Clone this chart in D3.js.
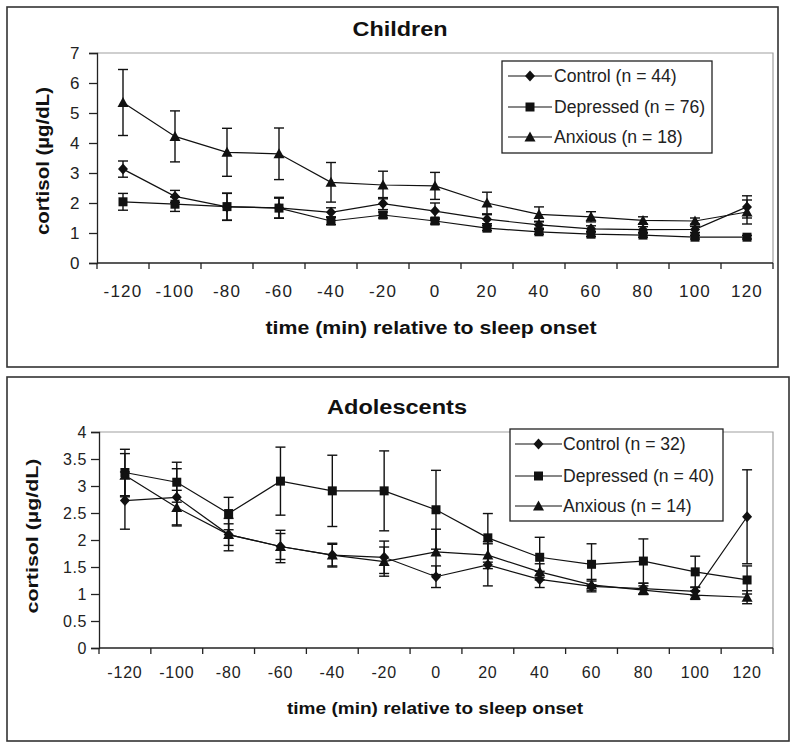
<!DOCTYPE html>
<html>
<head>
<meta charset="utf-8">
<script src="https://cdn.jsdelivr.net/npm/d3@7"></script>
<style>
  html, body { margin: 0; padding: 0; background: #fff; }
  svg { display: block; font-family: Arial, "Liberation Sans", Helvetica, sans-serif; }
</style>
</head>
<body>
<svg id="chart" width="800" height="749"></svg>
<script>
// ---------- DATA ----------
const times = [-120, -100, -80, -60, -40, -20, 0, 20, 40, 60, 80, 100, 120];

const childTicks = [0, 1, 2, 3, 4, 5, 6, 7];
const adolTicks = [0, 0.5, 1, 1.5, 2, 2.5, 3, 3.5, 4];

const childControl = [3.13, 2.22, 1.87, 1.84, 1.69, 1.98, 1.73, 1.46, 1.27, 1.14, 1.11, 1.12, 1.87];
const childControlErr = [0.27, 0.2, 0.45, 0.35, 0.15, 0.2, 0.27, 0.15, 0.12, 0.1, 0.1, 0.1, 0.37];
const childDepressed = [2.04, 1.96, 1.88, 1.83, 1.4, 1.6, 1.4, 1.16, 1.04, 0.96, 0.93, 0.86, 0.86];
const childDepressedErr = [0.28, 0.24, 0.45, 0.33, 0.12, 0.1, 0.1, 0.08, 0.08, 0.08, 0.07, 0.06, 0.06];
const childAnxious = [5.35, 4.22, 3.69, 3.64, 2.69, 2.6, 2.57, 2.0, 1.62, 1.54, 1.42, 1.4, 1.7];
const childAnxiousErr = [1.1, 0.85, 0.8, 0.86, 0.66, 0.46, 0.45, 0.36, 0.25, 0.17, 0.12, 0.1, 0.4];

const adolControl = [2.73, 2.79, 2.1, 1.88, 1.72, 1.68, 1.32, 1.54, 1.27, 1.14, 1.1, 1.05, 2.43];
const adolControlErr = [0.53, 0.53, 0.2, 0.3, 0.22, 0.3, 0.2, 0.39, 0.15, 0.1, 0.1, 0.08, 0.87];
const adolDepressed = [3.25, 3.07, 2.49, 3.09, 2.91, 2.91, 2.56, 2.04, 1.68, 1.55, 1.61, 1.41, 1.26];
const adolDepressedErr = [0.43, 0.37, 0.3, 0.63, 0.66, 0.74, 0.73, 0.45, 0.37, 0.38, 0.41, 0.29, 0.26];
const adolAnxious = [3.2, 2.6, 2.1, 1.88, 1.72, 1.6, 1.78, 1.72, 1.41, 1.17, 1.07, 0.98, 0.94];
const adolAnxiousErr = [0.4, 0.32, 0.3, 0.24, 0.2, 0.27, 0.42, 0.25, 0.15, 0.1, 0.08, 0.08, 0.12];

const childLegend = ["Control (n = 44)", "Depressed (n = 76)", "Anxious (n = 18)"];
const adolLegend = ["Control (n = 32)", "Depressed (n = 40)", "Anxious (n = 14)"];
const markers = ["diamond", "square", "triangle"];

const yTitle = "cortisol (\u00b5g/dL)";
const xTitle = "time (min) relative to sleep onset";

// ---------- DRAW ----------
const svg = d3.select("#chart");

function markerPath(type) {
  if (type === "diamond") return "M0,-5.5L5,0L0,5.5L-5,0Z";
  if (type === "square") return "M-4.5,-4.5H4.5V4.5H-4.5Z";
  return "M0,-5.5L5.5,4.5H-5.5Z";
}

function panel(cfg) {
  const g = svg.append("g");
  g.append("rect").attr("x", cfg.box[0]).attr("y", cfg.box[1])
    .attr("width", cfg.box[2] - cfg.box[0]).attr("height", cfg.box[3] - cfg.box[1])
    .attr("fill", "#fff").attr("stroke", "#333").attr("stroke-width", 1.6);

  const x = d3.scaleBand().domain(times).range([cfg.left, cfg.right]).padding(0);
  const xc = t => x(t) + x.bandwidth() / 2;
  const y = d3.scaleLinear().domain([0, cfg.ymax]).range([cfg.bottom, cfg.top]);

  g.append("path")
    .attr("d", `M${cfg.left},${cfg.top}H${cfg.right}V${cfg.bottom}`)
    .attr("fill", "none").attr("stroke", "#a0a0a0").attr("stroke-width", 1.2);

  const yAxis = d3.axisLeft(y).tickValues(cfg.yticks).tickSize(8).tickPadding(cfg.yPad)
    .tickFormat(d => String(d));
  const ya = g.append("g").attr("transform", `translate(${cfg.left},0)`).call(yAxis);
  ya.select(".domain").attr("stroke", "#222").attr("stroke-width", 1.3);
  ya.selectAll(".tick line").attr("stroke", "#222").attr("stroke-width", 1.3);
  ya.selectAll("text").attr("font-size", cfg.tickFont).attr("fill", "#222")
    .attr("letter-spacing", cfg.yLS);

  const xAxis = d3.axisBottom(x).tickSize(0).tickPadding(cfg.xPad).tickFormat(d => String(d));
  const xa = g.append("g").attr("transform", `translate(0,${cfg.bottom})`).call(xAxis);
  xa.select(".domain").attr("stroke", "#222").attr("stroke-width", 1.3)
    .attr("d", `M${cfg.left},0H${cfg.right}`);
  xa.selectAll("text").attr("font-size", cfg.tickFont).attr("fill", "#222")
    .attr("letter-spacing", cfg.xLS);
  const edges = times.map(t => x(t)).concat([x(times[times.length - 1]) + x.bandwidth()]);
  g.selectAll(".xedge").data(edges).enter().append("line")
    .attr("x1", d => d).attr("x2", d => d)
    .attr("y1", cfg.bottom).attr("y2", cfg.bottom + 6)
    .attr("stroke", "#222").attr("stroke-width", 1.3);

  g.append("text").attr("x", cfg.titleX).attr("y", cfg.titleY)
    .attr("text-anchor", "middle").attr("font-weight", "bold")
    .attr("font-size", cfg.titleFont).attr("fill", "#111")
    .attr("textLength", cfg.titleLen).attr("lengthAdjust", "spacingAndGlyphs")
    .text(cfg.title);
  g.append("text").attr("x", cfg.xTitleX).attr("y", cfg.xTitleY)
    .attr("text-anchor", "middle").attr("font-weight", "bold")
    .attr("font-size", cfg.axisTitleFont).attr("fill", "#111")
    .attr("textLength", cfg.xTitleLen).attr("lengthAdjust", "spacingAndGlyphs")
    .text(xTitle);
  g.append("text")
    .attr("transform", `translate(${cfg.yTitleX},${cfg.yTitleY}) rotate(-90)`)
    .attr("text-anchor", "middle").attr("font-weight", "bold")
    .attr("font-size", cfg.axisTitleFont).attr("fill", "#111")
    .attr("textLength", cfg.yTitleLen).attr("lengthAdjust", "spacingAndGlyphs")
    .text(yTitle);

  const line = d3.line().x((d, i) => xc(times[i])).y(d => y(d));
  cfg.series.forEach((s, si) => {
    const sg = g.append("g");
    sg.append("path").attr("d", line(s.values))
      .attr("fill", "none").attr("stroke", "#111").attr("stroke-width", 1.2);
    s.values.forEach((v, i) => {
      const cx = xc(times[i]);
      const lo = y(v - s.err[i]), hi = y(v + s.err[i]);
      sg.append("line").attr("x1", cx).attr("x2", cx).attr("y1", lo).attr("y2", hi)
        .attr("stroke", "#111").attr("stroke-width", 1.4);
      [lo, hi].forEach(yy => sg.append("line")
        .attr("x1", cx - 5).attr("x2", cx + 5).attr("y1", yy).attr("y2", yy)
        .attr("stroke", "#111").attr("stroke-width", 1.4));
    });
    sg.selectAll(".m").data(s.values).enter().append("path")
      .attr("transform", (d, i) => `translate(${xc(times[i])},${y(d)})`)
      .attr("d", markerPath(markers[si])).attr("fill", "#111");
  });

  const L = cfg.legend;
  g.append("rect").attr("x", L.x).attr("y", L.y).attr("width", L.w).attr("height", L.h)
    .attr("fill", "#fff").attr("stroke", "#222").attr("stroke-width", 1.3);
  cfg.legendLabels.forEach((lab, i) => {
    const yy = L.rows[i];
    g.append("line").attr("x1", L.x + L.l0).attr("x2", L.x + L.l1).attr("y1", yy).attr("y2", yy)
      .attr("stroke", "#111").attr("stroke-width", 1.2);
    g.append("path").attr("transform", `translate(${L.x + (L.l0 + L.l1) / 2},${yy})`)
      .attr("d", markerPath(markers[i])).attr("fill", "#111");
    g.append("text").attr("x", L.x + L.tx).attr("y", yy).attr("dy", "0.36em")
      .attr("font-size", L.font).attr("fill", "#222").text(lab);
  });
}

panel({
  box: [7, 7, 778, 367],
  left: 97, right: 773, top: 53, bottom: 263, ymax: 7,
  yticks: childTicks, yPad: 9, xPad: 22, tickFont: 17, xLS: 1.2, yLS: 0.5,
  title: "Children", titleX: 400, titleY: 36, titleFont: 20, titleLen: 95,
  xTitleX: 431, xTitleY: 334, xTitleLen: 331, axisTitleFont: 18,
  yTitleX: 49, yTitleY: 161, yTitleLen: 148,
  series: [
    { values: childControl, err: childControlErr },
    { values: childDepressed, err: childDepressedErr },
    { values: childAnxious, err: childAnxiousErr }
  ],
  legendLabels: childLegend,
  legend: { x: 502, y: 61, w: 210, h: 92, rows: [76, 107, 137], font: 17.6, l0: 6, l1: 50, tx: 52 }
});

panel({
  box: [7, 377, 789, 741],
  left: 99, right: 773, top: 432, bottom: 648, ymax: 4,
  yticks: adolTicks, yPad: 4, xPad: 19, tickFont: 16, xLS: 0.8, yLS: 0.6,
  title: "Adolescents", titleX: 397, titleY: 414, titleFont: 20, titleLen: 140,
  xTitleX: 435, xTitleY: 714, xTitleLen: 296, axisTitleFont: 17,
  yTitleX: 38, yTitleY: 536, yTitleLen: 155,
  series: [
    { values: adolControl, err: adolControlErr },
    { values: adolDepressed, err: adolDepressedErr },
    { values: adolAnxious, err: adolAnxiousErr }
  ],
  legendLabels: adolLegend,
  legend: { x: 510, y: 429, w: 213, h: 92, rows: [444, 476, 506], font: 17.6, l0: 5, l1: 52, tx: 53 }
});
</script>
</body>
</html>
